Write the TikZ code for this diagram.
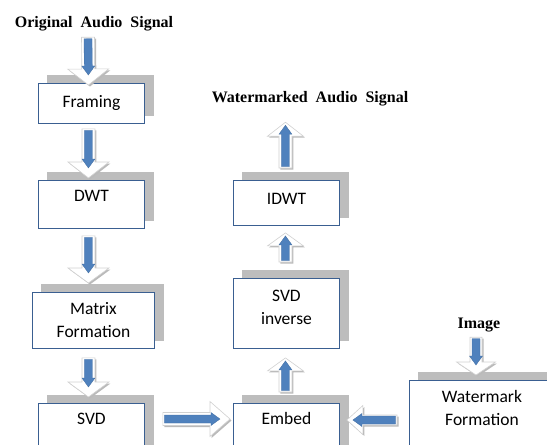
\documentclass[tikz,border=0pt]{standalone}
\usepackage{fontspec}
\newfontfamily\boxfont{Carlito}
\newfontfamily\titlefont{Liberation Serif}
\usetikzlibrary{calc}
\pgfdeclarelayer{background}
\pgfsetlayers{background,main}
\definecolor{boxblue}{HTML}{3A5F91}
\definecolor{arrblue}{HTML}{4F81BD}
\definecolor{shadowgray}{HTML}{BDBDBD}
\newcommand\widesp{\spaceskip=8pt plus 1pt\relax}
\tikzset{
  box/.style={draw=boxblue, line width=0.9pt, fill=white, inner sep=0pt,
    anchor=north west, align=center,
    font=\boxfont\fontsize{17.5}{23}\selectfont},
  ttl/.style={font=\titlefont\bfseries\fontsize{16}{19}\selectfont,
    inner sep=0pt, anchor=base},
  boxshadow/.style={fill=shadowgray},
  arrowbody/.style={fill=white, draw=black!18, line width=0.6pt},
  arrowshadow/.style={fill=black!27},
  arrowcore/.style={fill=arrblue, draw=arrblue!85!black, line width=0.3pt},
}
% #1 head length, #2 half head width, #3 half shaft width, #4 core tip offset, #5 from, #6 to
\newcommand\blockarrow[6]{%
  \path let \p1=($(#6)-(#5)$), \n1={atan2(\y1,\x1)}, \n2={veclen(\x1,\y1)} in
    \pgfextra{\xdef\baAng{\n1}\xdef\baLen{\n2}};
  \begin{scope}[shift={($(#5)+(1.5pt,-1.5pt)$)}, rotate=\baAng, x=1pt, y=1pt]
    \fill[arrowshadow] (0,-#3) -- (\baLen-#1,-#3) -- (\baLen-#1,-#2) -- (\baLen,0)
      -- (\baLen-#1,#2) -- (\baLen-#1,#3) -- (0,#3) -- cycle;
  \end{scope}
  \begin{scope}[shift={(#5)}, rotate=\baAng, x=1pt, y=1pt]
    \path[arrowbody] (0,-#3) -- (\baLen-#1,-#3) -- (\baLen-#1,-#2) -- (\baLen,0)
      -- (\baLen-#1,#2) -- (\baLen-#1,#3) -- (0,#3) -- cycle;
    \path[arrowcore] (1.5,-4) -- (\baLen-#4-9,-4) -- (\baLen-#4-9,-6.5) -- (\baLen-#4,0)
      -- (\baLen-#4-9,6.5) -- (\baLen-#4-9,4) -- (1.5,4) -- cycle;
  \end{scope}}
\begin{document}
\begin{tikzpicture}[x=1pt, y=-1pt]
\useasboundingbox (0,0) rectangle (547,445);
\clip (0,0) rectangle (547,445);
% titles
\node[ttl] (orig) at (94,27) {\widesp Original Audio Signal};
\node[ttl] (wm) at (310,102) {\widesp Watermarked Audio Signal};
\node[ttl] (img) at (479,328) {Image};
% boxes
\node[box, text width=106pt, text height=24pt, text depth=16pt] (framing) at (38,83) {Framing};
\node[box, text width=106pt, text height=21.5pt, text depth=26.5pt] (dwt) at (38,180) {DWT};
\node[box, text width=122pt, text height=22.3pt, text depth=33.7pt] (matrix) at (32,292) {Matrix\\Formation};
\node[box, text width=106pt, text height=21pt, text depth=30pt] (svd) at (38,403) {SVD};
\node[box, text width=106pt, text height=24pt, text depth=21pt] (idwt) at (233,180) {IDWT};
\node[box, text width=106pt, text height=22.7pt, text depth=47.3pt] (svdinv) at (233,278) {SVD\\inverse};
\node[box, text width=106pt, text height=21pt, text depth=30pt] (embed) at (233,403) {Embed};
\node[box, text width=145pt, text height=22pt, text depth=50pt] (wmf) at (409,380) {Watermark\\Formation};
% box shadows
\begin{pgfonlayer}{background}
\foreach \n in {framing,dwt,matrix,svd,idwt,svdinv,embed,wmf}
  \fill[boxshadow] ([shift={(9pt,8pt)}]\n.south west) rectangle ([shift={(9pt,8pt)}]\n.north east);
\end{pgfonlayer}
% connector end points
\coordinate (a1s) at ($(orig.south)+(-6,6.5)$);
\coordinate (a1e) at ($(framing.north)+(-3,2)$);
\coordinate (a2s) at ($(framing.south)+(-3,5)$);
\coordinate (a2e) at ($(dwt.north)+(-3,-2)$);
\coordinate (a3s) at ($(dwt.south)+(-3,7)$);
\coordinate (a3e) at ($(matrix.north)+(-5,-9)$);
\coordinate (a4s) at ($(matrix.south)+(-5,9)$);
\coordinate (a4e) at ($(svd.north)+(-3,-6)$);
\coordinate (rs) at ($(svd.north east)+(18,16)$);
\coordinate (re) at ($(embed.north west)+(-3,16)$);
\coordinate (ls) at ($(wmf.north west)+(-12,40)$);
\coordinate (le) at ($(embed.north east)+(7,17)$);
\coordinate (u1s) at ($(embed.north)+(-1,-11)$);
\coordinate (u1e) at ($(svdinv.south)+(-1,9)$);
\coordinate (u2s) at ($(svdinv.north)+(-1,-16)$);
\coordinate (u2e) at ($(idwt.south)+(-1,7)$);
\coordinate (u3s) at ($(idwt.north)+(-1,-12)$);
\coordinate (u3e) at ($(idwt.north |- wm.south)+(-1,16.5)$);
\coordinate (is) at ($(img.south)+(-3,5.5)$);
\coordinate (ie) at ($(img.south |- wmf.north)+(-3,-5)$);
% block arrows
\blockarrow{16}{20.5}{6.5}{10}{a1s}{a1e}
\blockarrow{16}{20.5}{6.5}{10}{a2s}{a2e}
\blockarrow{15}{20.5}{6.5}{10}{a3s}{a3e}
\blockarrow{15}{20.5}{6.5}{10}{a4s}{a4e}
\blockarrow{20}{17.5}{6.5}{10}{rs}{re}
\blockarrow{16}{14.5}{5}{6}{ls}{le}
\blockarrow{13}{18}{6.5}{3}{u1s}{u1e}
\blockarrow{13}{18}{6.5}{3}{u2s}{u2e}
\blockarrow{14}{18}{6.5}{3}{u3s}{u3e}
\blockarrow{13}{19.5}{6}{10}{is}{ie}
\end{tikzpicture}
\end{document}
